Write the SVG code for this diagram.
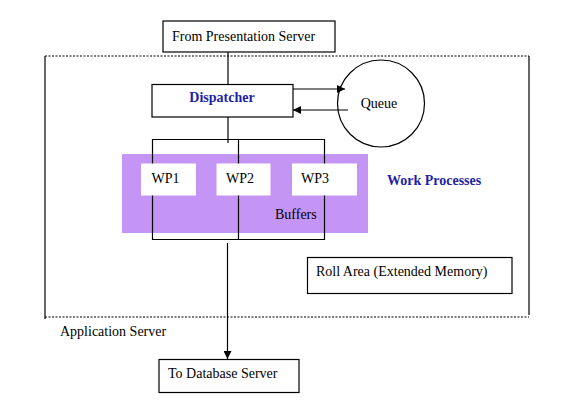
<svg xmlns="http://www.w3.org/2000/svg" width="567" height="413" viewBox="0 0 567 413">
<style>
  .box { fill: #ffffff; stroke: #000000; stroke-width: 1.2; }
  .wp { fill: #ffffff; stroke: none; }
  .t { font-family: "Liberation Serif", "Times New Roman", serif; font-size: 14px; fill: #000000; }
  .b { font-family: "Liberation Serif", "Times New Roman", serif; font-size: 14px; font-weight: bold; fill: #1f1fa8; }
  .ln { stroke: #000000; stroke-width: 1.2; fill: none; }
  .dash { stroke: #000000; stroke-width: 1; stroke-dasharray: 2 1.5; fill: none; }
</style>
<defs>
  <marker id="arr" viewBox="0 0 10 10" refX="10" refY="5" markerWidth="8" markerHeight="8" markerUnits="userSpaceOnUse" orient="auto">
    <path d="M0,0 L10,5 L0,10 z" fill="#000000"/>
  </marker>
</defs>
<rect width="567" height="413" fill="#ffffff"/>

<g id="application-server">
  <line class="dash" x1="45" y1="56" x2="529" y2="56"/>
  <line class="dash" x1="45" y1="317" x2="529" y2="317"/>
  <line class="ln" x1="45" y1="56" x2="45" y2="319"/>
  <line class="ln" x1="529" y1="56" x2="529" y2="315"/>
  <text class="t" x="60" y="336">Application Server</text>
</g>

<g id="buffers">
  <rect x="122" y="154" width="246" height="79" fill="#c495f5"/>
  <text class="t" x="275" y="219">Buffers</text>
</g>

<g id="connectors">
  <line class="ln" x1="228" y1="52" x2="228" y2="94" marker-end="url(#arr)"/>
  <line class="ln" x1="293" y1="89" x2="345" y2="89" marker-end="url(#arr)"/>
  <line class="ln" x1="348" y1="110" x2="293" y2="110" marker-end="url(#arr)"/>
  <line class="ln" x1="228" y1="117" x2="228" y2="143"/>
  <polyline class="ln" points="152.5,164 152.5,139.5 324.5,139.5 324.5,164"/>
  <line class="ln" x1="238.5" y1="139.5" x2="238.5" y2="239.5"/>
  <polyline class="ln" points="152.5,195 152.5,239.5 324.5,239.5 324.5,195"/>
  <line class="ln" x1="227.5" y1="243" x2="227.5" y2="359" marker-end="url(#arr)"/>
</g>

<g id="from-presentation-server">
  <rect class="box" x="163" y="21" width="172" height="31"/>
  <text class="t" x="172" y="41">From Presentation Server</text>
</g>

<g id="dispatcher">
  <rect class="box" x="152" y="84.5" width="141" height="32.5"/>
  <text class="b" x="222" y="102" text-anchor="middle">Dispatcher</text>
</g>

<g id="queue">
  <circle cx="381" cy="103.5" r="43.5" fill="none" stroke="#000000" stroke-width="1.2"/>
  <text class="t" x="379" y="108" text-anchor="middle">Queue</text>
</g>

<g id="wp1">
  <rect class="wp" x="141" y="163.5" width="55" height="32"/>
  <text class="t" x="151.5" y="183">WP1</text>
</g>
<g id="wp2">
  <rect class="wp" x="216.5" y="163.5" width="54" height="32"/>
  <text class="t" x="226" y="183">WP2</text>
</g>
<g id="wp3">
  <rect class="wp" x="292" y="163.5" width="65" height="32"/>
  <text class="t" x="301" y="183">WP3</text>
</g>

<g id="work-processes">
  <text class="b" x="387" y="185">Work Processes</text>
</g>

<g id="roll-area">
  <rect class="box" x="307.5" y="257.5" width="204.5" height="36"/>
  <text class="t" x="316" y="276">Roll Area (Extended Memory)</text>
</g>

<g id="to-database-server">
  <rect class="box" x="159" y="359.5" width="140" height="33"/>
  <text class="t" x="168" y="378">To Database Server</text>
</g>
</svg>
